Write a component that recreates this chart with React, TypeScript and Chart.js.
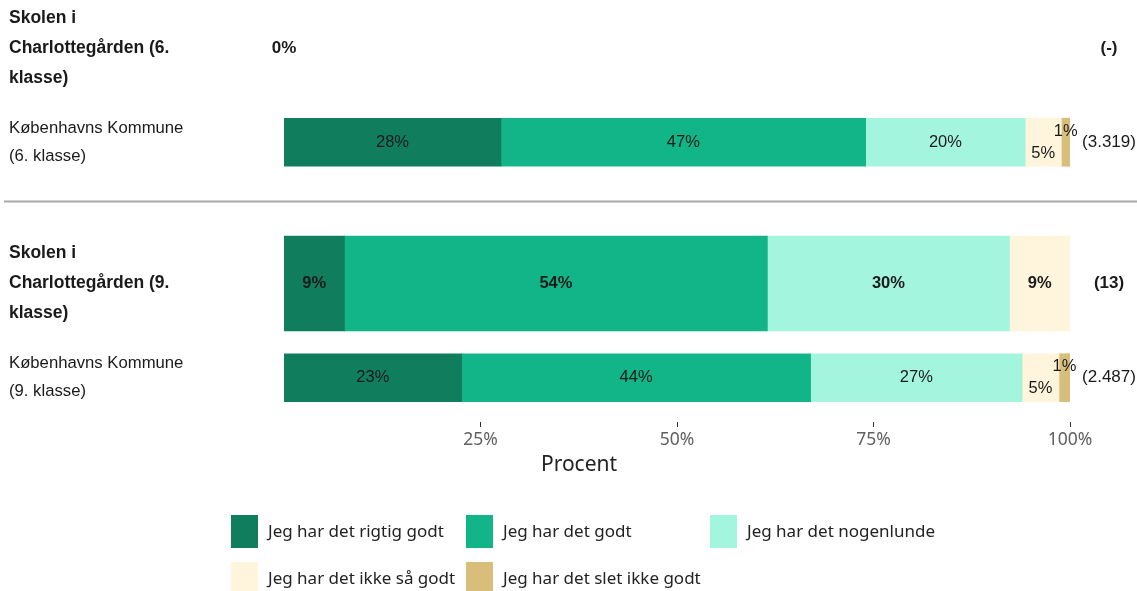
import React, { useEffect, useRef } from 'react';
import { Chart, registerables } from 'chart.js';

Chart.register(...registerables);

// ---------- data ----------
const rowLabels: string[][] = [
  ['Skolen i', 'Charlottegården (6.', 'klasse)'],
  ['Københavns Kommune', '(6. klasse)'],
  ['Skolen i', 'Charlottegården (9.', 'klasse)'],
  ['Københavns Kommune', '(9. klasse)'],
];
const rowIsSchool = [true, false, true, false];
const rowPositions = [0, 1, 2.5, 3.5];
const rowCounts = ['(-)', '(3.319)', '(13)', '(2.487)'];
const dividerAt = 1.62;

const seriesNames = [
  'Jeg har det rigtig godt',
  'Jeg har det godt',
  'Jeg har det nogenlunde',
  'Jeg har det ikke så godt',
  'Jeg har det slet ikke godt',
];
const seriesColors = ['#107e5d', '#12b587', '#a3f5de', '#fff4dc', '#d9bd7a'];

// share (%) per row; null = no answers
const rigtigGodt = [null, 27.6, 7.7, 22.6];
const godt = [null, 46.4, 53.8, 44.4];
const nogenlunde = [null, 20.3, 30.8, 26.9];
const ikkeSaaGodt = [null, 4.6, 7.7, 4.7];
const sletIkkeGodt = [null, 1.1, 0, 1.4];

// printed labels per row
const rigtigGodtText = ['', '28%', '9%', '23%'];
const godtText = ['', '47%', '54%', '44%'];
const nogenlundeText = ['', '20%', '30%', '27%'];
const ikkeSaaGodtText = ['', '5%', '9%', '5%'];
const sletIkkeGodtText = ['', '1%', '', '1%'];
const emptyRowText = '0%';

const xTicks = [25, 50, 75, 100];
const xTitle = 'Procent';

const seriesValues = [rigtigGodt, godt, nogenlunde, ikkeSaaGodt, sletIkkeGodt];
const seriesTexts = [rigtigGodtText, godtText, nogenlundeText, ikkeSaaGodtText, sletIkkeGodtText];

const ARIAL = '"Liberation Sans", Arial, sans-serif';
const SANS = '"Noto Sans", sans-serif';

function buildDatasets() {
  const sets: any[] = [];
  [false, true].forEach((school) => {
    seriesValues.forEach((vals, s) => {
      const data: any[] = [];
      vals.forEach((v, r) => {
        if (rowIsSchool[r] !== school) return;
        if (v === null || v === 0) return;
        data.push({ x: v, y: rowPositions[r], text: seriesTexts[s][r] });
      });
      sets.push({
        label: seriesNames[s],
        data,
        backgroundColor: seriesColors[s],
        borderWidth: 0,
        barThickness: school ? 95 : 48,
        grouped: false,
        seriesIndex: s,
        school,
      });
    });
  });
  return sets;
}

const overlayPlugin = {
  id: 'overlay',
  afterDatasetsDraw(chart: any) {
    const ctx = chart.ctx;
    const xs = chart.scales.x;
    const ys = chart.scales.y;
    ctx.save();
    ctx.textAlign = 'center';
    ctx.textBaseline = 'middle';
    ctx.fillStyle = '#1a1a1a';

    // bar labels
    chart.data.datasets.forEach((ds: any, di: number) => {
      const meta = chart.getDatasetMeta(di);
      meta.data.forEach((el: any, j: number) => {
        const d = ds.data[j];
        if (!d || !d.text) return;
        const c = el.getCenterPoint();
        let dy = 0;
        if (d.x < 6 && ds.seriesIndex === 3) dy = 11;
        if (d.x < 6 && ds.seriesIndex === 4) dy = -11;
        ctx.font = `${ds.school ? 'bold ' : ''}16.5px ${ARIAL}`;
        ctx.fillText(d.text, c.x, c.y + dy);
      });
    });

    // empty rows and counts
    rowPositions.forEach((p, r) => {
      const py = ys.getPixelForValue(p);
      const empty = seriesValues.every((vals) => vals[r] === null);
      const weight = rowIsSchool[r] ? 'bold ' : '';
      if (empty) {
        ctx.font = `bold 17px ${ARIAL}`;
        ctx.fillText(emptyRowText, xs.getPixelForValue(0), py);
      }
      ctx.font = `${weight}17px ${ARIAL}`;
      ctx.fillText(rowCounts[r], 1109, py);
    });

    // divider
    const dyPix = Math.round(ys.getPixelForValue(dividerAt)) + 0.5;
    ctx.strokeStyle = '#a8a8a8';
    ctx.lineWidth = 2;
    ctx.beginPath();
    ctx.moveTo(4, dyPix);
    ctx.lineTo(chart.width, dyPix);
    ctx.stroke();

    // axis title
    ctx.fillStyle = '#222';
    ctx.font = `21px ${SANS}`;
    ctx.fillText(xTitle, 579, 465);

    // legend
    const colX = [231, 466, 710];
    const rowY = [515, 562];
    ctx.textAlign = 'left';
    ctx.font = `17px ${SANS}`;
    seriesNames.forEach((name, i) => {
      const bx = colX[i % 3];
      const by = rowY[Math.floor(i / 3)];
      ctx.fillStyle = seriesColors[i];
      ctx.fillRect(bx, by, 27, 33);
      ctx.fillStyle = '#222';
      ctx.fillText(name, bx + 37, by + 17);
    });
    ctx.restore();
  },
};

export default function App() {
  const ref = useRef<HTMLCanvasElement | null>(null);
  useEffect(() => {
    if (!ref.current) return;
    const chart = new Chart(ref.current, {
      type: 'bar',
      data: { datasets: buildDatasets() },
      plugins: [overlayPlugin],
      options: {
        animation: false,
        responsive: false,
        indexAxis: 'y',
        layout: { padding: { left: 9, right: 67, top: 0, bottom: 0 } },
        plugins: { legend: { display: false }, tooltip: { enabled: false } },
        scales: {
          x: {
            type: 'linear',
            stacked: true,
            min: 0,
            max: 100,
            offset: false,
            position: 'bottom',
            afterBuildTicks: (scale: any) => {
              scale.ticks = xTicks.map((v) => ({ value: v }));
            },
            afterFit: (scale: any) => {
              scale.height = 169;
              scale.paddingLeft = 0;
              scale.paddingRight = 0;
            },
            grid: { display: true, drawOnChartArea: false, drawTicks: true, tickLength: 5, color: '#333' },
            border: { display: false },
            ticks: {
              callback: (v: any) => `${v}%`,
              color: '#606060',
              padding: 3,
              font: { family: SANS, size: 17.5 },
            },
          },
          y: {
            type: 'linear',
            stacked: true,
            reverse: true,
            offset: false,
            min: -0.51,
            max: 3.97,
            afterBuildTicks: (scale: any) => {
              scale.ticks = rowPositions.map((v) => ({ value: v }));
            },
            afterFit: (scale: any) => {
              scale.width = 275;
              scale.paddingTop = 0;
              scale.paddingBottom = 0;
            },
            grid: { display: false, offset: false },
            border: { display: false },
            ticks: {
              autoSkip: false,
              crossAlign: 'far',
              color: '#1a1a1a',
              callback: (v: any) => {
                const i = rowPositions.indexOf(v);
                return i >= 0 ? rowLabels[i] : '';
              },
              font: (c: any) => {
                const i = rowPositions.indexOf(c.tick ? c.tick.value : -1);
                const school = i >= 0 && rowIsSchool[i];
                return {
                  family: ARIAL,
                  size: school ? 17.5 : 16.7,
                  weight: school ? 'bold' : 'normal',
                  lineHeight: school ? '30px' : '28px',
                };
              },
            },
          },
        },
      } as any,
    });
    return () => chart.destroy();
  }, []);
  return (
    <div style={{ position: 'absolute', left: 0, top: 0, width: 1137, height: 591 }}>
      <canvas ref={ref} width={1137} height={591} />
    </div>
  );
}
